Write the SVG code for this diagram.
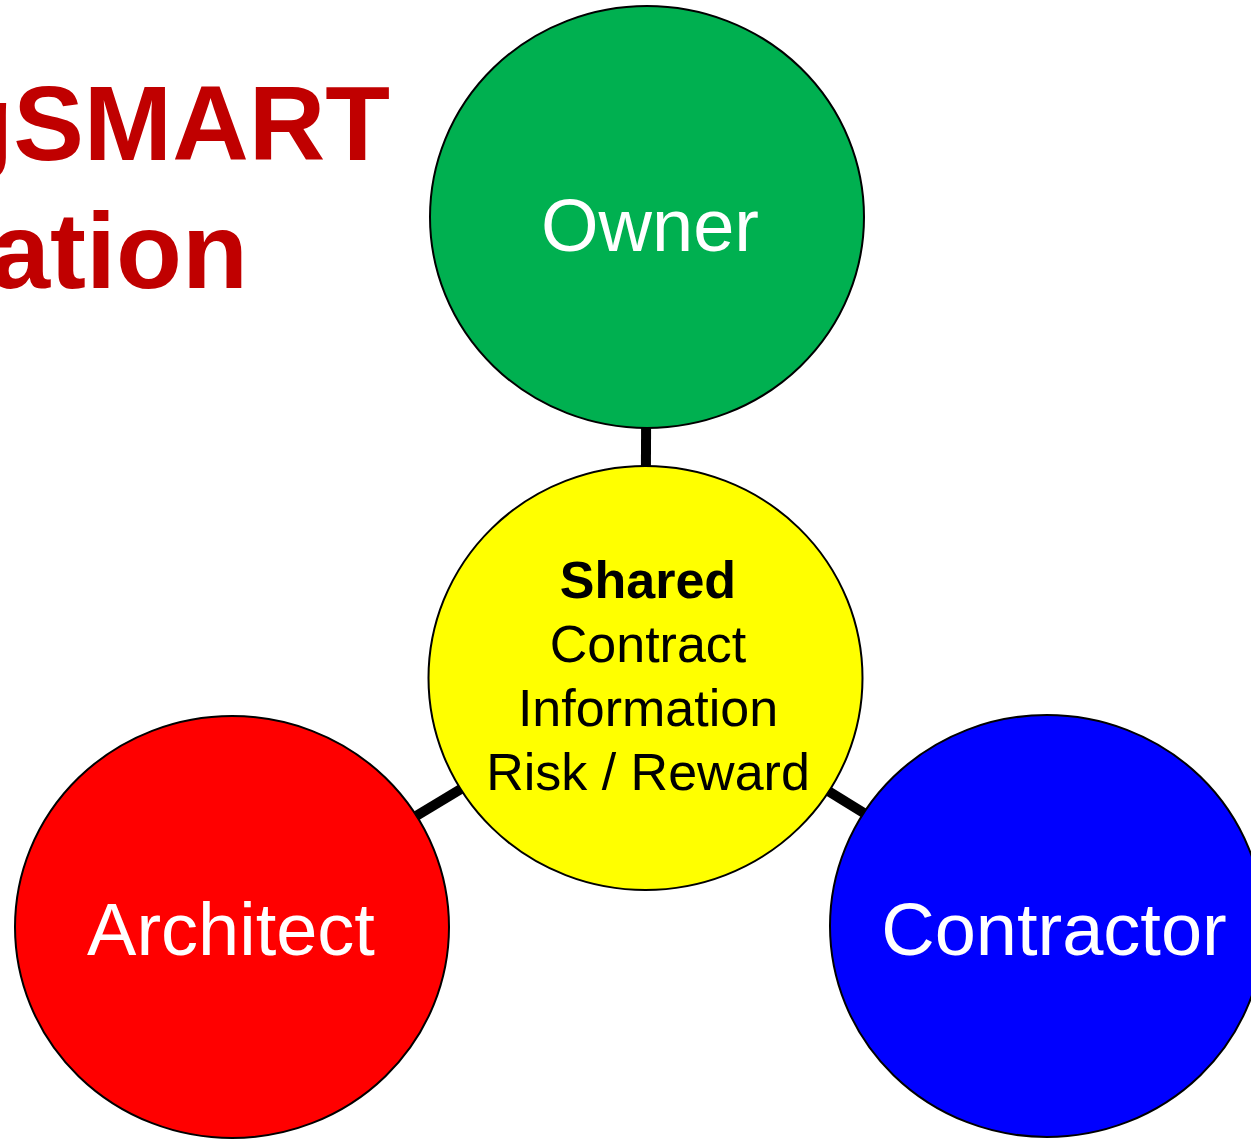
<svg xmlns="http://www.w3.org/2000/svg" width="1251" height="1139" viewBox="0 0 1251 1139">
<style>
.node{stroke:#000;stroke-width:2}
.lbl{font-family:"Liberation Sans",Arial,sans-serif;font-size:74px;fill:#fff;text-anchor:middle}
.ctr{font-family:"Liberation Sans",Arial,sans-serif;font-size:52px;fill:#000;text-anchor:middle}
.title{font-family:"Liberation Sans",Arial,sans-serif;font-weight:bold;fill:#C00000;text-anchor:end}
.conn{stroke:#000;stroke-width:10;fill:none}
</style>
<rect width="1251" height="1139" fill="#fff"/>
<g id="title">
<text class="title" x="390" y="160" font-size="106">gSMART</text>
<text class="title" x="248" y="288" font-size="108">ation</text>
</g>
<g id="connectors">
<line class="conn" x1="647" y1="217" x2="645" y2="678"/>
<line class="conn" x1="232" y1="927" x2="645" y2="678"/>
<line class="conn" x1="1047" y1="926" x2="645" y2="678"/>
</g>
<g id="owner">
<ellipse class="node" cx="647" cy="217" rx="217" ry="211" fill="#00B050"/>
<text class="lbl" x="650" y="251">Owner</text>
</g>
<g id="shared">
<ellipse class="node" cx="645.5" cy="678" rx="217" ry="212" fill="#FFFF00"/>
<text class="ctr" x="648" y="598" font-weight="bold">Shared</text>
<text class="ctr" x="648" y="662">Contract</text>
<text class="ctr" x="648" y="726">Information</text>
<text class="ctr" x="648" y="790">Risk / Reward</text>
</g>
<g id="architect">
<ellipse class="node" cx="232" cy="927" rx="217" ry="211" fill="#FF0000"/>
<text class="lbl" x="231" y="955">Architect</text>
</g>
<g id="contractor">
<ellipse class="node" cx="1047" cy="926" rx="217" ry="211" fill="#0000FF"/>
<text class="lbl" x="1054" y="955">Contractor</text>
</g>
</svg>
